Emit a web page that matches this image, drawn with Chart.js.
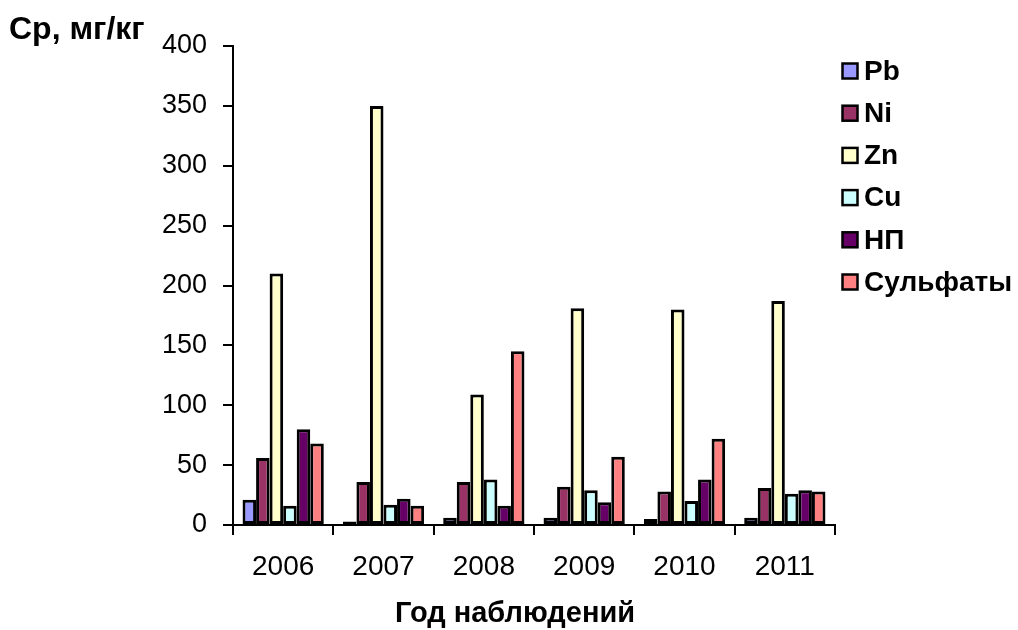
<!DOCTYPE html>
<html><head><meta charset="utf-8">
<script src="https://cdn.jsdelivr.net/npm/chart.js@4/dist/chart.umd.min.js"></script>
<style>html,body{margin:0;padding:0;background:#fff}#wrap{width:1018px;height:630px}</style>
</head><body><div id="wrap"><canvas id="c" width="1018" height="630"></canvas></div>
<script>
const years = ['2006','2007','2008','2009','2010','2011'];
const seriesNames = ['Pb','Ni','Zn','Cu','НП','Сульфаты'];
const pb = [21, 3, 6, 6, 5, 6];
const ni = [56, 36, 36, 32, 28, 31];
const zn = [210, 350, 109, 181, 180, 187];
const cu = [16, 17, 38, 29, 20, 26];
const np = [80, 22, 16, 19, 38, 29];
const sulf = [68, 16, 145, 57, 72, 28];
const colors = ['#9999FF','#993366','#FFFFCC','#CCFFFF','#660066','#FF8080'];
const yTitle = 'Ср, мг/кг';
const xTitle = 'Год наблюдений';

const values = [pb, ni, zn, cu, np, sulf];
const FONT = '"Liberation Sans", Arial, sans-serif';

const extras = {
  id: 'extras',
  afterDraw(chart) {
    const ctx = chart.ctx;
    ctx.save();
    ctx.fillStyle = '#000';
    ctx.font = 'bold 32px ' + FONT;
    ctx.textAlign = 'left'; ctx.textBaseline = 'middle';
    ctx.fillText(yTitle, 9, 30);
    ctx.font = 'bold 29px ' + FONT;
    ctx.textAlign = 'center';
    ctx.fillText(xTitle, 515, 614);
    // legend
    ctx.font = 'bold 28px ' + FONT;
    ctx.textAlign = 'left';
    chart.data.datasets.forEach((ds, i) => {
      const y = 71 + i * 42.2;
      ctx.fillStyle = ds.backgroundColor;
      ctx.fillRect(842.5, y - 7.5, 15, 15);
      ctx.strokeStyle = '#000'; ctx.lineWidth = 2.5;
      ctx.strokeRect(842.5, y - 7.5, 15, 15);
      ctx.fillStyle = '#000';
      ctx.fillText(ds.label, 864, y + 1);
    });
    ctx.restore();
  }
};

new Chart(document.getElementById('c'), {
  type: 'bar',
  data: {
    labels: years,
    datasets: seriesNames.map((n, i) => ({
      label: n, data: values[i], backgroundColor: colors[i],
      borderColor: '#000', borderWidth: 3, borderSkipped: false,
      barPercentage: 1.0, categoryPercentage: 0.81
    }))
  },
  options: {
    responsive: false, animation: false,
    layout: { padding: { left: 0, top: 46, right: 183, bottom: 0 } },
    plugins: { legend: { display: false }, tooltip: { enabled: false } },
    scales: {
      y: {
        min: 0, max: 400,
        ticks: { stepSize: 50, color: '#000', font: { family: FONT, size: 27 }, padding: 16 },
        grid: { drawOnChartArea: false, drawTicks: true, tickLength: 10, color: '#000', lineWidth: 2 },
        border: { color: '#000', width: 2 },
        afterFit(s) { s.width = 233; }
      },
      x: {
        ticks: { color: '#000', font: { family: FONT, size: 28 }, padding: 15 },
        grid: { offset: true, drawOnChartArea: false, drawTicks: true, tickLength: 10, color: '#000', lineWidth: 2 },
        border: { color: '#000', width: 2 },
        afterFit(s) { s.height = 105; }
      }
    }
  },
  plugins: [extras]
});
</script></body></html>
